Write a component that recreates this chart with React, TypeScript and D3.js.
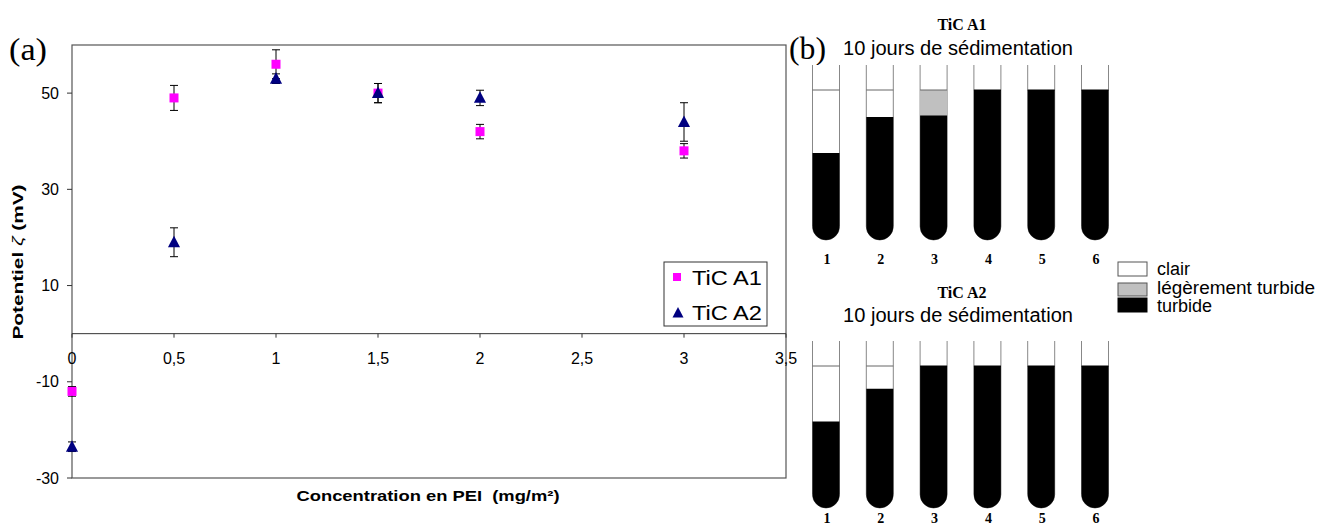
import React from "react";
import * as d3 from "d3";

// ---- Data: panel (a) zeta potential ----
const concentrations = [0, 0.5, 1, 1.5, 2, 3];
const ticA1 = [-12, 49, 56, 50, 42, 38];
const ticA1Err = [1, 2.6, 3, 2, 1.5, 1.5];
const ticA2 = [-23.5, 19, 53, 50, 49, 44];
const ticA2Err = [1, 3, 1, 2, 1.6, 4];
const xTicks = [0, 0.5, 1, 1.5, 2, 2.5, 3, 3.5];
const xTickLabels = ["0", "0,5", "1", "1,5", "2", "2,5", "3", "3,5"];
const yTicks = [-30, -10, 10, 30, 50];

// ---- Data: panel (b) sedimentation tubes (percent of liquid column, bottom = 0) ----
const tubeLabels = ["1", "2", "3", "4", "5", "6"];
// top of black (turbide) region, top of grey (légèrement turbide) region
const a1Black = [58, 82, 83, 100, 100, 100];
const a1Grey = [58, 82, 100, 100, 100, 100];
const a2Black = [61, 84, 100, 100, 100, 100];
const a2Grey = [61, 84, 100, 100, 100, 100];

const SANS = "'Liberation Sans', Arial, sans-serif";
const SERIF = "'Liberation Serif', 'Times New Roman', serif";

function Tubes({ top, liquidTop, bottom, black, grey, labelY }: any) {
  const x = d3.scalePoint<string>().domain(tubeLabels).range([826, 1095]);
  const lvl = d3.scaleLinear().domain([0, 100]).range([bottom, liquidTop]);
  const w = 27;
  const r = w / 2;
  const segPath = (cx: number, yTop: number) => {
    const l = cx - r, rt = cx + r;
    const yb = bottom - r;
    return `M${l},${yTop} L${l},${yb} A${r},${r} 0 0 0 ${rt},${yb} L${rt},${yTop} Z`;
  };
  return (
    <g>
      {tubeLabels.map((t, i) => {
        const cx = x(t)!;
        const l = cx - r, rt = cx + r;
        const yb = bottom - r;
        const yBlack = lvl(black[i]);
        const yGrey = lvl(grey[i]);
        return (
          <g key={t}>
            <path d={`M${l},${top} L${l},${yb} A${r},${r} 0 0 0 ${rt},${yb} L${rt},${top}`} fill="#fff" stroke="#888" strokeWidth={1} />
            {grey[i] > black[i] && <path d={segPath(cx, yGrey)} fill="#c0c0c0" />}
            <path d={segPath(cx, yBlack)} fill="#000" />
            <line x1={l} x2={rt} y1={lvl(100)} y2={lvl(100)} stroke={black[i] >= 100 ? "#000" : "#666"} strokeWidth={1} />
            <text x={cx + 1} y={labelY} textAnchor="middle" fontFamily={SERIF} fontWeight="bold" fontSize={14}>{t}</text>
          </g>
        );
      })}
    </g>
  );
}

export default function App() {
  const W = 1319, H = 528;
  const x = d3.scaleLinear().domain([0, 3.5]).range([72, 786]);
  const y = d3.scaleLinear().domain([-30, 60]).range([478, 45]);
  const frameColor = "#555";
  const capW = 4;

  const errBars = (vals: number[], errs: number[]) =>
    concentrations.map((c, i) => {
      const cx = x(c);
      const y1 = y(vals[i] + errs[i]);
      const y2 = y(vals[i] - errs[i]);
      return (
        <g key={i} stroke="#000" strokeWidth={1}>
          <line x1={cx} x2={cx} y1={y1} y2={y2} />
          <line x1={cx - capW} x2={cx + capW} y1={y1} y2={y1} />
          <line x1={cx - capW} x2={cx + capW} y1={y2} y2={y2} />
        </g>
      );
    });

  const sq = 9;
  const tri = (cx: number, cy: number, s: number) =>
    `M${cx},${cy - s * 0.6} L${cx + s * 0.55},${cy + s * 0.45} L${cx - s * 0.55},${cy + s * 0.45} Z`;

  return (
    <svg width={W} height={H} style={{ position: "absolute", left: 0, top: 0, background: "#fff" }}>
      {/* Panel (a) */}
      <text x={9} y={60} fontFamily={SERIF} fontSize={31} textLength={38} lengthAdjust="spacingAndGlyphs">(a)</text>
      <rect x={72} y={45} width={714} height={433} fill="none" stroke={frameColor} strokeWidth={1.2} />
      {/* x axis at y=0 */}
      <line x1={72} x2={786} y1={y(0)} y2={y(0)} stroke="#333" strokeWidth={1} />
      {xTicks.map((t, i) => (
        <g key={t}>
          <line x1={x(t)} x2={x(t)} y1={y(0)} y2={y(0) + 4} stroke="#333" />
          <text x={x(t)} y={364} textAnchor="middle" fontFamily={SANS} fontSize={16}>{xTickLabels[i]}</text>
        </g>
      ))}
      {yTicks.map((t) => (
        <g key={t}>
          <line x1={67} x2={72} y1={y(t)} y2={y(t)} stroke="#333" />
          <text x={59} y={y(t) + 5.5} textAnchor="end" fontFamily={SANS} fontSize={16}>{t}</text>
        </g>
      ))}
      <text transform="translate(23,262) rotate(-90)" textAnchor="middle" fontFamily={SANS} fontSize={15} fontWeight="bold"
        textLength={155} lengthAdjust="spacingAndGlyphs">
        Potentiel <tspan fontStyle="italic" fontWeight="normal">ζ</tspan> (mV)
      </text>
      <text x={428} y={501} textAnchor="middle" fontFamily={SANS} fontSize={15} fontWeight="bold" style={{ whiteSpace: "pre" }}
        textLength={263} lengthAdjust="spacingAndGlyphs">
        Concentration en PEI  (mg/m²)
      </text>

      {/* series A1 */}
      {errBars(ticA1, ticA1Err)}
      {concentrations.map((c, i) => (
        <rect key={i} x={x(c) - sq / 2} y={y(ticA1[i]) - sq / 2} width={sq} height={sq} fill="#ff00ff" />
      ))}
      {/* series A2 */}
      {errBars(ticA2, ticA2Err)}
      {concentrations.map((c, i) => (
        <path key={i} d={tri(x(c), y(ticA2[i]), 11)} fill="#000080" />
      ))}

      {/* legend */}
      <rect x={664} y={262} width={103} height={64} fill="#fff" stroke="#333" strokeWidth={1} />
      <rect x={673} y={273} width={8} height={8} fill="#ff00ff" />
      <text x={692} y={285} fontFamily={SANS} fontSize={20} textLength={70} lengthAdjust="spacingAndGlyphs">TiC A1</text>
      <path d={tri(678, 313, 10)} fill="#000080" />
      <text x={692} y={320} fontFamily={SANS} fontSize={20} textLength={70} lengthAdjust="spacingAndGlyphs">TiC A2</text>

      {/* Panel (b) */}
      <text x={789} y={59} fontFamily={SERIF} fontSize={31} textLength={37} lengthAdjust="spacingAndGlyphs">(b)</text>
      <text x={962} y={30} textAnchor="middle" fontFamily={SERIF} fontWeight="bold" fontSize={16}>TiC A1</text>
      <text x={958} y={55} textAnchor="middle" fontFamily={SANS} fontSize={20} textLength={230} lengthAdjust="spacingAndGlyphs">10 jours de sédimentation</text>
      <Tubes top={65} liquidTop={90} bottom={240} black={a1Black} grey={a1Grey} labelY={264} />

      <text x={962} y={298} textAnchor="middle" fontFamily={SERIF} fontWeight="bold" fontSize={16}>TiC A2</text>
      <text x={958} y={322} textAnchor="middle" fontFamily={SANS} fontSize={20} textLength={230} lengthAdjust="spacingAndGlyphs">10 jours de sédimentation</text>
      <Tubes top={341} liquidTop={366} bottom={508} black={a2Black} grey={a2Grey} labelY={523} />

      {/* legend (b) */}
      <rect x={1118} y={262} width={29} height={14} fill="#fff" stroke="#555" />
      <rect x={1118} y={283} width={29} height={13} fill="#c0c0c0" stroke="#555" />
      <rect x={1118} y={298} width={29} height={14} fill="#000" stroke="#000" />
      <text x={1157} y={275} fontFamily={SANS} fontSize={18}>clair</text>
      <text x={1157} y={294} fontFamily={SANS} fontSize={18} textLength={158} lengthAdjust="spacingAndGlyphs">légèrement turbide</text>
      <text x={1157} y={312} fontFamily={SANS} fontSize={18}>turbide</text>
    </svg>
  );
}
